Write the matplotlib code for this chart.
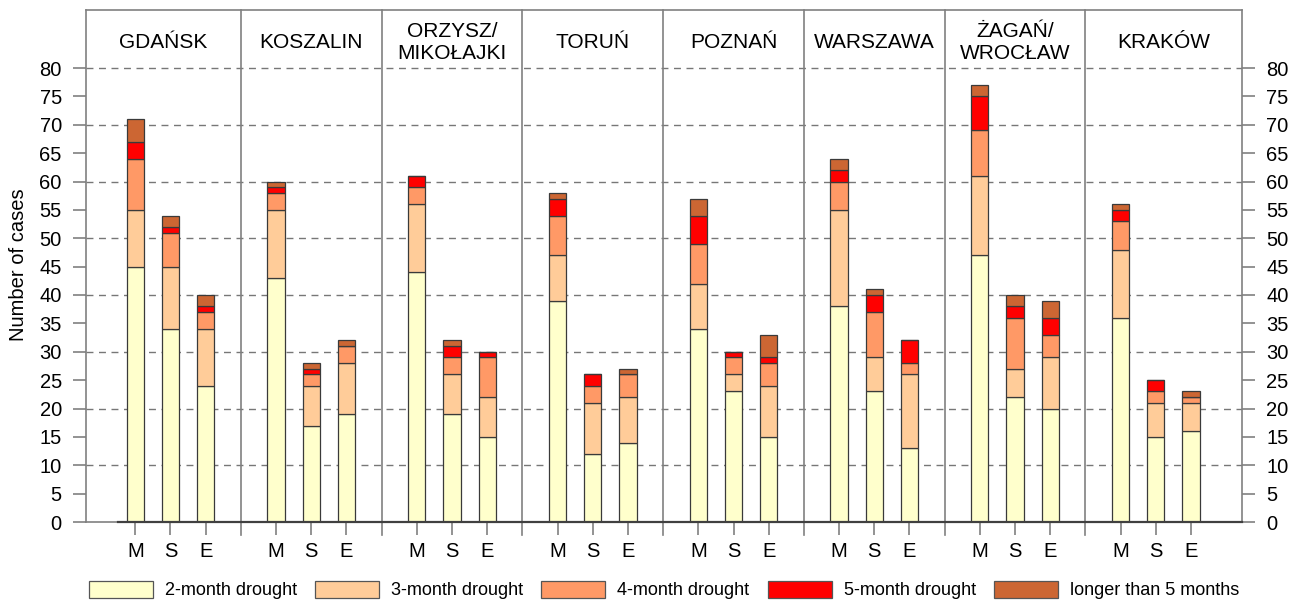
import matplotlib
matplotlib.use("Agg")
import matplotlib.pyplot as plt
from matplotlib.patches import Patch
import matplotlib.transforms as mtransforms
import numpy as np

plt.rcParams['font.family'] = ['Liberation Sans', 'DejaVu Sans']

stations = ["GDAŃSK", "KOSZALIN", "ORZYSZ/\nMIKOŁAJKI", "TORUŃ", "POZNAŃ",
            "WARSZAWA", "ŻAGAŃ/\nWROCŁAW", "KRAKÓW"]
seasons = ["M", "S", "E"]

two_month = [45, 34, 24, 43, 17, 19, 44, 19, 15, 39, 12, 14,
             34, 23, 15, 38, 23, 13, 47, 22, 20, 36, 15, 16]
three_month = [10, 11, 10, 12, 7, 9, 12, 7, 7, 8, 9, 8,
               8, 3, 9, 17, 6, 13, 14, 5, 9, 12, 6, 5]
four_month = [9, 6, 3, 3, 2, 3, 3, 3, 7, 7, 3, 4,
              7, 3, 4, 5, 8, 2, 8, 9, 4, 5, 2, 1]
five_month = [3, 1, 1, 1, 1, 0, 2, 2, 1, 3, 2, 0,
              5, 1, 1, 2, 3, 4, 6, 2, 3, 2, 2, 0]
longer = [4, 2, 2, 1, 1, 1, 0, 1, 0, 1, 0, 1,
          3, 0, 4, 2, 1, 0, 2, 2, 3, 1, 0, 1]

series = [two_month, three_month, four_month, five_month, longer]
series_names = ["2-month drought", "3-month drought", "4-month drought",
                "5-month drought", "longer than 5 months"]
colors = ["#FFFFCC", "#FFCC99", "#FF9966", "#FF0000", "#CC6633"]

fig = plt.figure(figsize=(13.05, 6.06), dpi=100)
ax = fig.add_axes([86/1305, 1-522/606, (1242-86)/1305, 512/606])

n_st = len(stations)
xpos = []
for i in range(n_st):
    for j in range(3):
        xpos.append(4*i + 1 + j)
xpos = np.array(xpos)

bottom = np.zeros(len(xpos))
for vals, col in zip(series, colors):
    v = np.array(vals, dtype=float)
    ax.bar(xpos, v, bottom=bottom, width=0.49, color=col,
           edgecolor="#3a3a3a", linewidth=0.9, zorder=3)
    bottom += v

ymax = 512/5.675
xmin, xmax = -0.4, 32.45
ax.set_ylim(0, ymax)
ax.set_xlim(xmin, xmax)

# grid
for g in range(10, 81, 10):
    ax.axhline(g, color="#777777", lw=1.0, ls=(0, (5, 4)), zorder=1)

# separators
trans = mtransforms.blended_transform_factory(ax.transData, ax.transAxes)
bounds = [xmin] + [4*i for i in range(1, n_st)] + [xmax]
for i in range(1, n_st):
    ax.plot([4*i, 4*i], [-13/512, 1], transform=trans, color="#808080",
            lw=1.2, clip_on=False, zorder=2)

# headers
for i, name in enumerate(stations):
    xc = (bounds[i] + bounds[i+1]) / 2
    ax.text(xc, 84.5, name, ha="center", va="center", fontsize=15,
            linespacing=1.15, zorder=4)

# spines
for s in ["left", "right", "top", "bottom"]:
    ax.spines[s].set_color("#808080")
    ax.spines[s].set_linewidth(1.2)
ax.plot([0.5, xmax], [0, 0], color="#404040", lw=1.6, zorder=4, clip_on=False)

ax.set_yticks(np.arange(0, 81, 5))
ax.tick_params(axis="y", which="both", left=True, right=True, labelleft=True,
               labelright=True, length=9.4, width=1.2, color="#808080",
               labelsize=14.5, pad=8)
ax.set_xticks(xpos)
ax.set_xticklabels(seasons * n_st)
ax.tick_params(axis="x", length=9.4, width=1.2, color="#808080",
               labelsize=14.5, pad=5)

ax.set_ylabel("Number of cases", fontsize=14.5)
ax.yaxis.set_label_coords(-0.050, 0.502)

handles = [Patch(facecolor=c, edgecolor="#555555", linewidth=0.9) for c in colors]
fig.legend(handles, series_names, loc="center", bbox_to_anchor=(664/1305, 1-590/606),
           ncol=5, frameon=False, fontsize=13, handlelength=3.55, handleheight=1.1,
           handletextpad=0.67, columnspacing=1.0)

fig.savefig("out.png", dpi=100)
